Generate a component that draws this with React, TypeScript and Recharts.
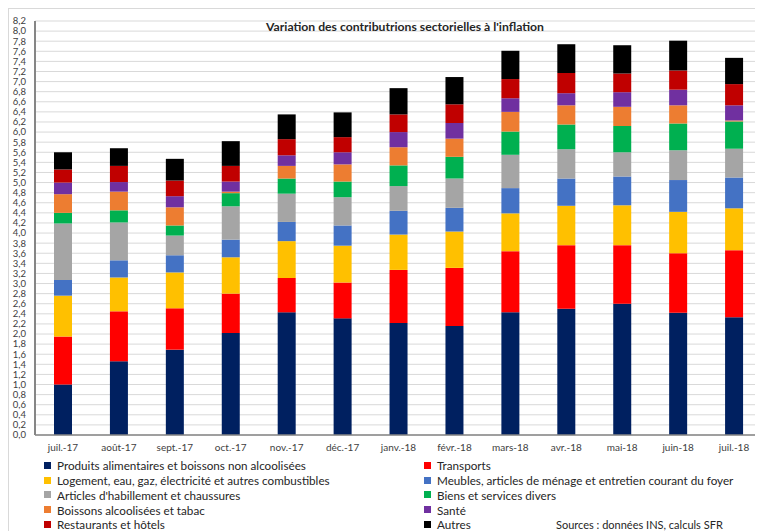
import React from 'react';
import { BarChart, Bar, XAxis, YAxis, CartesianGrid, Legend } from 'recharts';

const categories = ['juil.-17', 'août-17', 'sept.-17', 'oct.-17', 'nov.-17', 'déc.-17', 'janv.-18', 'févr.-18', 'mars-18', 'avr.-18', 'mai-18', 'juin-18', 'juil.-18'];

const produitsAlimentaires = [1.00, 1.46, 1.69, 2.02, 2.43, 2.31, 2.22, 2.16, 2.43, 2.50, 2.60, 2.42, 2.33];
const transports = [0.95, 0.99, 0.82, 0.78, 0.68, 0.71, 1.05, 1.15, 1.21, 1.26, 1.16, 1.18, 1.33];
const logement = [0.81, 0.67, 0.71, 0.72, 0.73, 0.73, 0.70, 0.72, 0.75, 0.78, 0.79, 0.82, 0.83];
const meubles = [0.31, 0.34, 0.34, 0.35, 0.38, 0.40, 0.47, 0.47, 0.50, 0.54, 0.57, 0.63, 0.61];
const habillement = [1.12, 0.75, 0.39, 0.66, 0.56, 0.56, 0.49, 0.58, 0.66, 0.58, 0.48, 0.59, 0.57];
const biensServices = [0.21, 0.24, 0.20, 0.26, 0.30, 0.31, 0.41, 0.43, 0.46, 0.49, 0.52, 0.53, 0.54];
const boissonsTabac = [0.37, 0.37, 0.36, 0.03, 0.25, 0.34, 0.36, 0.36, 0.39, 0.38, 0.38, 0.36, 0.02];
const sante = [0.23, 0.19, 0.22, 0.20, 0.21, 0.24, 0.30, 0.31, 0.27, 0.24, 0.29, 0.31, 0.30];
const restaurants = [0.26, 0.32, 0.31, 0.31, 0.32, 0.30, 0.35, 0.37, 0.38, 0.40, 0.37, 0.38, 0.42];
const autres = [0.34, 0.35, 0.43, 0.49, 0.49, 0.49, 0.52, 0.54, 0.56, 0.57, 0.56, 0.59, 0.52];

const seriesNames = [
  'Produits alimentaires et boissons non alcoolisées',
  'Transports',
  'Logement, eau, gaz, électricité et autres combustibles',
  'Meubles, articles de ménage et entretien courant du foyer',
  "Articles d'habillement et chaussures",
  'Biens et services divers',
  'Boissons alcoolisées et tabac',
  'Santé',
  'Restaurants et hôtels',
  'Autres',
];
const seriesColors = ['#002060', '#FF0000', '#FFC000', '#4472C4', '#A5A5A5', '#00B050', '#ED7D31', '#7030A0', '#C00000', '#000000'];
const seriesValues = [produitsAlimentaires, transports, logement, meubles, habillement, biensServices, boissonsTabac, sante, restaurants, autres];

const yTicks = [0, 0.2, 0.4, 0.6, 0.8, 1.0, 1.2, 1.4, 1.6, 1.8, 2.0, 2.2, 2.4, 2.6, 2.8, 3.0, 3.2, 3.4, 3.6, 3.8, 4.0, 4.2, 4.4, 4.6, 4.8, 5.0, 5.2, 5.4, 5.6, 5.8, 6.0, 6.2, 6.4, 6.6, 6.8, 7.0, 7.2, 7.4, 7.6, 7.8, 8.0, 8.2];

const title = "Variation des contributrions sectorielles à l'inflation";
const sourceText = 'Sources : données INS, calculs SFR';

const data = categories.map((c, i) => {
  const row: Record<string, number | string> = { month: c };
  seriesValues.forEach((arr, k) => {
    row['s' + k] = arr[i];
  });
  return row;
});

const FONT = 'Lato, "Noto Sans", sans-serif';

const renderLegend = () => (
  <div
    style={{
      display: 'grid',
      gridTemplateColumns: '380px 340px',
      fontFamily: FONT,
      fontSize: 11.7,
      color: '#262626',
    }}
  >
    {seriesNames.map((name, k) => (
      <div key={name} style={{ display: 'flex', alignItems: 'center', height: 14.75, whiteSpace: 'nowrap' }}>
        <span style={{ display: 'inline-block', width: 7, height: 7, background: seriesColors[k], marginRight: 6 }} />
        <span>{name}</span>
      </div>
    ))}
  </div>
);

export default function App() {
  return (
    <div
      style={{
        position: 'relative',
        width: 754,
        height: 522,
        borderLeft: '1px solid #d9d9d9',
        borderTop: '1px solid #d9d9d9',
        overflow: 'hidden',
        background: '#fff',
      }}
    >
      <BarChart width={754} height={522} data={data} margin={{ top: 12, right: 1, left: 0, bottom: 66 }}>
        <CartesianGrid vertical={false} stroke="#d9d9d9" />
        <XAxis
          dataKey="month"
          tickLine={false}
          axisLine={{ stroke: '#868686', strokeWidth: 1.5 }}
          tick={{ fontSize: 10, fill: '#404040', fontFamily: FONT }}
          tickMargin={3}
          interval={0}
          height={30}
        />
        <YAxis
          type="number"
          domain={[0, 8.2]}
          ticks={yTicks}
          interval={0}
          width={26}
          tickLine={false}
          axisLine={{ stroke: '#868686', strokeWidth: 2 }}
          tick={{ fontSize: 9.5, fill: '#404040', fontFamily: FONT }}
          tickMargin={3}
          tickFormatter={(v: number) => v.toFixed(1).replace('.', ',')}
        />
        <Legend
          layout="horizontal"
          verticalAlign="middle"
          align="center"
          content={renderLegend}
          wrapperStyle={{ top: 449, left: 35, width: 720 }}
        />
        {seriesNames.map((name, k) => (
          <Bar key={name} dataKey={'s' + k} name={name} stackId="a" fill={seriesColors[k]} barSize={18} isAnimationActive={false} />
        ))}
      </BarChart>
      <div
        style={{
          position: 'absolute',
          left: 396,
          top: 10,
          transform: 'translateX(-50%)',
          fontFamily: FONT,
          fontWeight: 'bold',
          fontSize: 12.2,
          color: '#262626',
          whiteSpace: 'nowrap',
        }}
      >
        {title}
      </div>
      <div
        style={{
          position: 'absolute',
          left: 547,
          top: 509,
          fontFamily: FONT,
          fontSize: 11,
          lineHeight: '13px',
          color: '#262626',
          whiteSpace: 'nowrap',
        }}
      >
        {sourceText}
      </div>
    </div>
  );
}
